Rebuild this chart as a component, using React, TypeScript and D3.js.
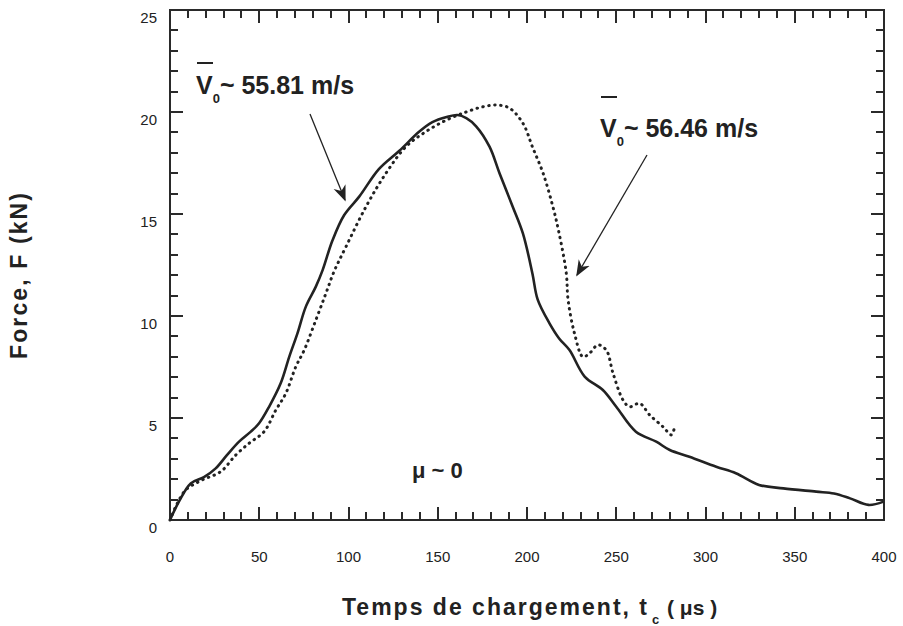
import React from "react";
import * as d3 from "d3";

const xTicks = [0, 50, 100, 150, 200, 250, 300, 350, 400];
const yTicks = [0, 5, 10, 15, 20, 25];

// V0 ~ 55.81 m/s (solid)
const solidT = [0, 5, 11.6, 19, 25.6, 32, 38.7, 45.3, 49.9, 55.5, 62, 66.8, 71.4, 76.1, 81.7, 85.5, 91, 97.6, 106, 117, 128.5, 139.7, 147, 155, 161, 166, 171.5, 179, 184.6, 192, 197.7, 203, 206, 212.6, 218, 223.8, 232.3, 242.5, 250, 261, 272.4, 280, 291, 306, 317, 330, 343.6, 362, 372, 381, 391.3, 399.8];
const solidF = [0, 0.9, 1.79, 2.1, 2.53, 3.19, 3.84, 4.33, 4.74, 5.55, 6.7, 8.0, 9.15, 10.46, 11.44, 12.25, 13.7, 14.95, 15.85, 17.2, 18.1, 19.04, 19.5, 19.75, 19.85, 19.7, 19.3, 18.3, 17.0, 15.36, 14.05, 12.1, 10.8, 9.64, 8.9, 8.33, 7.03, 6.37, 5.55, 4.33, 3.84, 3.43, 3.1, 2.61, 2.29, 1.72, 1.55, 1.39, 1.3, 1.06, 0.74, 0.9];

// V0 ~ 56.46 m/s (dotted)
const dotT = [0, 4, 8.8, 18, 28.4, 36.9, 44.3, 52.7, 59.3, 64.9, 70.5, 75.2, 81.7, 87.3, 92, 98.6, 109.8, 121, 132.2, 143.4, 154.7, 165.9, 175, 182.7, 190, 197.7, 203, 209, 214.5, 218, 222, 223, 226.6, 231.3, 235, 239.7, 244.4, 248.2, 253.8, 257.5, 263.1, 268.7, 276.2, 280.9, 282.7];
const dotF = [0, 0.8, 1.47, 1.96, 2.37, 3.19, 3.76, 4.33, 5.39, 6.21, 7.52, 8.33, 9.8, 11.1, 12.2, 13.4, 15.36, 17.0, 18.3, 19.04, 19.6, 20.0, 20.25, 20.34, 20.2, 19.45, 18.3, 17.0, 15.36, 14.05, 12.1, 10.8, 9.15, 8.0, 8.17, 8.58, 8.33, 7.19, 5.88, 5.55, 5.72, 5.15, 4.57, 4.17, 4.57];

const W = 903;
const H = 626;
const PL = 170;
const PR = 884;
const PT = 10;
const PB = 520;

export default function App() {
  const x = d3.scaleLinear().domain([0, 400]).range([PL, PR]);
  const y = d3.scaleLinear().domain([0, 25]).range([PB, PT]);
  const line = d3
    .line<[number, number]>()
    .x((d) => x(d[0]))
    .y((d) => y(d[1]))
    .curve(d3.curveCatmullRom.alpha(0.5));
  const solid: [number, number][] = solidT.map((t, i) => [t, solidF[i]]);
  const dotted: [number, number][] = dotT.map((t, i) => [t, dotF[i]]);

  const xMinor = d3.range(0, 401, 10);
  const yMinor = d3.range(0, 26, 1);
  const ink = "#222";
  const frame = "#2a2a2a";
  const font = "'Liberation Sans', Arial, Helvetica, sans-serif";

  let d = `M${PL},${PT}H${PR}V${PB}H${PL}Z`;
  xMinor.forEach((v) => {
    const len = v % 50 === 0 ? 13 : 8;
    const px = Math.round(x(v));
    d += `M${px},${PB}L${px},${PB - len}M${px},${PT}L${px},${PT + len}`;
  });
  yMinor.forEach((v) => {
    const len = v % 5 === 0 ? 13 : 8;
    const py = Math.round(y(v));
    d += `M${PL},${py}L${PL + len},${py}M${PR},${py}L${PR - len},${py}`;
  });

  return (
    <svg
      width={W}
      height={H}
      style={{ position: "absolute", left: 0, top: 0, background: "#fff" }}
      fontFamily={font}
    >
      <rect x={0} y={0} width={W} height={H} fill="#fff" />
      {/* frame and ticks */}
      <path d={d} fill="none" stroke={frame} strokeWidth={2} />
      {/* tick labels */}
      {xTicks.map((v) => (
        <text key={"xl" + v} x={x(v)} y={562} textAnchor="middle" fontSize={15} fill={ink}>
          {v}
        </text>
      ))}
      {yTicks.map((v) => (
        <text key={"ylab" + v} x={157} y={y(v) + 13} textAnchor="end" fontSize={15} fill={ink}>
          {v}
        </text>
      ))}
      {/* curves */}
      <path d={line(solid) || ""} fill="none" stroke={ink} strokeWidth={2.6} strokeLinejoin="round" />
      <path
        d={line(dotted) || ""}
        fill="none"
        stroke={ink}
        strokeWidth={3}
        strokeDasharray="0.5 5.5"
        strokeLinecap="round"
      />
      {/* annotation 1 */}
      <text x={196} y={94} fontSize={25} fontWeight="bold" fill={ink}>
        V
        <tspan dy={9} fontSize={13}>0</tspan>
        <tspan dy={-9}>~ 55.81 m/s</tspan>
      </text>
      <line x1={197} x2={213} y1={63} y2={63} stroke={ink} strokeWidth={2} />
      {/* annotation 2 */}
      <text x={600} y={137} fontSize={25} fontWeight="bold" fill={ink}>
        V
        <tspan dy={9} fontSize={13}>0</tspan>
        <tspan dy={-9}>~ 56.46 m/s</tspan>
      </text>
      <line x1={601} x2={617} y1={97} y2={97} stroke={ink} strokeWidth={2} />
      {/* arrows */}
      <defs>
        <marker id="ah2" viewBox="0 0 10 10" refX={9} refY={5} markerWidth={16} markerHeight={16} orient="auto" markerUnits="userSpaceOnUse">
          <path d="M0,1 L10,5 L0,9 L3,5 Z" fill={ink} />
        </marker>
      </defs>
      <line x1={310} y1={114} x2={345} y2={200} stroke={ink} strokeWidth={1.3} markerEnd="url(#ah2)" />
      <line x1={647} y1={155} x2={577} y2={275} stroke={ink} strokeWidth={1.3} markerEnd="url(#ah2)" />
      {/* mu */}
      <text x={412} y={478} fontSize={22} fontWeight="bold" fill={ink}>
        μ ~ 0
      </text>
      {/* axis titles */}
      <text x={342} y={615} fontSize={23} fontWeight="bold" fill={ink} textLength={305} lengthAdjust="spacing">
        Temps de chargement, t
      </text>
      <text x={652} y={624} fontSize={13} fontWeight="bold" fill={ink}>
        c
      </text>
      <text x={667} y={615} fontSize={21} fontWeight="bold" fill={ink}>
        ( μs )
      </text>
      <text
        transform={`translate(27,276) rotate(-90)`}
        textAnchor="middle"
        fontSize={23}
        fontWeight="bold"
        fill={ink}
        textLength={166}
        lengthAdjust="spacing"
      >
        Force, F (kN)
      </text>
    </svg>
  );
}
